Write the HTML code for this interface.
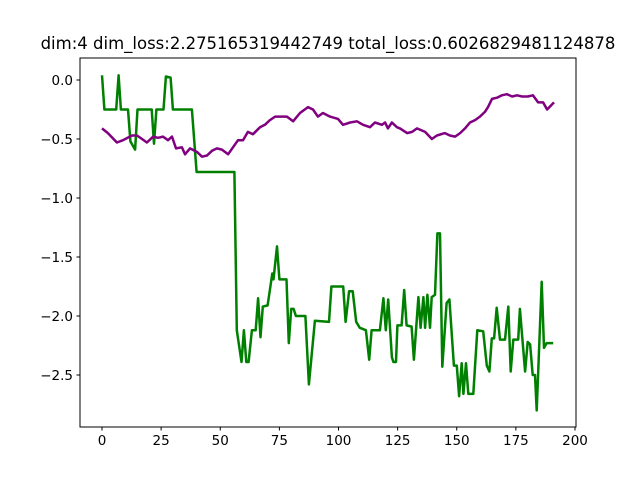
<!DOCTYPE html>
<html><head><meta charset="utf-8"><style>
html,body{margin:0;padding:0;background:#fff;}
svg{display:block;font-family:"DejaVu Sans","Liberation Sans",sans-serif;}
</style></head><body>
<svg id="chart" width="640" height="480" xmlns="http://www.w3.org/2000/svg">
<rect width="640" height="480" fill="#fff"/>
<text x="328" y="49" text-anchor="middle" font-size="16.5" fill="#000">dim:4 dim_loss:2.275165319442749 total_loss:0.6026829481124878</text>
<g id="ticks"></g>
<path id="greenLine" fill="none" stroke="#008000" stroke-width="2.5" stroke-linejoin="round"/>
<path id="purpleLine" fill="none" stroke="#800080" stroke-width="2.5" stroke-linejoin="round"/>
<rect x="80" y="58" width="496" height="369" fill="none" stroke="#000" stroke-width="1"/>
</svg>
<script>
const xTicks = [0, 25, 50, 75, 100, 125, 150, 175, 200];
const yTicks = [0.0, -0.5, -1.0, -1.5, -2.0, -2.5];
const yTickLabels = ["0.0", "\u22120.5", "\u22121.0", "\u22121.5", "\u22122.0", "\u22122.5"];
const greenX = [0,1,6,7,8,11,12,14,15,21,22,23,26,27,29,30,38,40,56,57,59,60,61,62,63.4,65,66,67,68,70,72,72.5,74,75,78,79,80,81,82,86,87.5,90,96,97,102,103,104.5,106,107.5,109,111.6,113,114,117.5,119,120,121,122.6,123.2,124.3,124.9,126.7,127.8,128.8,130.9,131.9,133.8,134.7,135.9,136.6,137.6,138.7,139.4,140.8,141.8,142.9,143.9,145.7,146.9,148.8,150,151,152.1,152.8,153.9,154.9,157,158.7,161.2,162.7,163.8,164.8,165.8,166.9,168.3,170.4,171.8,172.8,173.9,176,176.7,178.9,180,181,182.1,183.1,183.8,185.9,186.9,188,190.8];
const greenY = [0.04,-0.25,-0.25,0.04,-0.25,-0.25,-0.52,-0.59,-0.25,-0.25,-0.54,-0.25,-0.25,0.03,0.02,-0.25,-0.25,-0.78,-0.78,-2.12,-2.39,-2.12,-2.39,-2.39,-2.12,-2.12,-1.85,-2.18,-1.92,-1.91,-1.64,-1.69,-1.41,-1.69,-1.69,-2.23,-1.94,-1.94,-2.0,-2.0,-2.58,-2.04,-2.05,-1.75,-1.75,-2.05,-1.79,-1.79,-2.05,-2.1,-2.12,-2.37,-2.12,-2.12,-1.85,-2.12,-1.86,-2.35,-2.39,-2.39,-2.08,-2.08,-1.78,-2.08,-2.09,-2.37,-1.84,-2.1,-1.84,-2.1,-1.82,-2.1,-1.84,-1.82,-1.3,-1.3,-2.43,-1.89,-1.86,-2.42,-2.42,-2.68,-2.4,-2.66,-2.4,-2.66,-2.66,-2.12,-2.13,-2.42,-2.47,-2.19,-2.19,-1.93,-2.2,-2.2,-1.92,-2.47,-2.2,-2.2,-1.94,-2.47,-2.22,-2.24,-2.5,-2.5,-2.8,-1.71,-2.27,-2.23,-2.23];
const purpleX = [0,2.5,6.3,8.9,12.7,14.8,16.9,19,21.6,23.7,25.8,27.9,29.6,31.3,33.8,35.1,37.2,40.2,42.3,44.4,46.5,48.6,50.7,53.3,55.4,57.5,59.6,61.7,63.8,66.8,68.9,71,73.2,75.3,78.2,80.8,83.7,87.1,89.2,91.3,93.4,96.4,99.8,101.9,104.9,107.8,110.4,113.3,115.4,118.4,119.7,120.9,122.6,124.7,126,129,131.1,133.2,136.6,139.5,141.6,145,147.1,149.3,151.4,153.5,155.6,157.7,159.8,161.9,163.2,164.9,167,169.1,171.2,173.4,175.5,177.6,180.1,182.2,184.4,186.5,188.2,191.1];
const purpleY = [-0.41,-0.45,-0.53,-0.51,-0.47,-0.47,-0.5,-0.53,-0.48,-0.49,-0.48,-0.51,-0.48,-0.58,-0.57,-0.63,-0.58,-0.61,-0.65,-0.64,-0.6,-0.58,-0.59,-0.63,-0.57,-0.51,-0.51,-0.44,-0.46,-0.4,-0.38,-0.34,-0.31,-0.31,-0.31,-0.35,-0.28,-0.23,-0.25,-0.31,-0.28,-0.31,-0.33,-0.38,-0.36,-0.35,-0.38,-0.4,-0.36,-0.38,-0.36,-0.41,-0.36,-0.4,-0.41,-0.45,-0.44,-0.41,-0.44,-0.5,-0.47,-0.45,-0.47,-0.48,-0.45,-0.41,-0.36,-0.34,-0.31,-0.27,-0.23,-0.16,-0.15,-0.13,-0.12,-0.14,-0.13,-0.14,-0.14,-0.13,-0.19,-0.19,-0.25,-0.19];

const sx = v => 102 + v * 2.365;
const sy = v => 80 - v * 118;
const NS = "http://www.w3.org/2000/svg";
const tg = document.getElementById('ticks');
function mk(tag, attrs) { const e = document.createElementNS(NS, tag); for (const k in attrs) e.setAttribute(k, attrs[k]); return e; }
xTicks.forEach(t => {
  const l = mk('line', {x1: sx(t), x2: sx(t), y1: 427, y2: 430.5, stroke: '#000'});
  
  
  tg.appendChild(l);
  const tx = mk('text', {x: sx(t), y: 445, 'text-anchor': 'middle', 'font-size': '13.5'});
  
  
  tx.textContent = String(t);
  tg.appendChild(tx);
});
yTicks.forEach((t, i) => {
  const l = mk('line', {x1: 76.5, x2: 80, y1: sy(t), y2: sy(t), stroke: '#000'});
  
  
  tg.appendChild(l);
  const tx = mk('text', {x: 73, y: sy(t) + 5, 'text-anchor': 'end', 'font-size': '13.5'});
  
  
  tx.textContent = yTickLabels[i];
  tg.appendChild(tx);
});
function path(xs, ys) { return xs.map((x, i) => (i ? 'L' : 'M') + sx(x).toFixed(1) + ',' + sy(ys[i]).toFixed(1)).join(' '); }
document.getElementById('greenLine').setAttribute('d', path(greenX, greenY));
document.getElementById('purpleLine').setAttribute('d', path(purpleX, purpleY));
</script>
</body></html>
